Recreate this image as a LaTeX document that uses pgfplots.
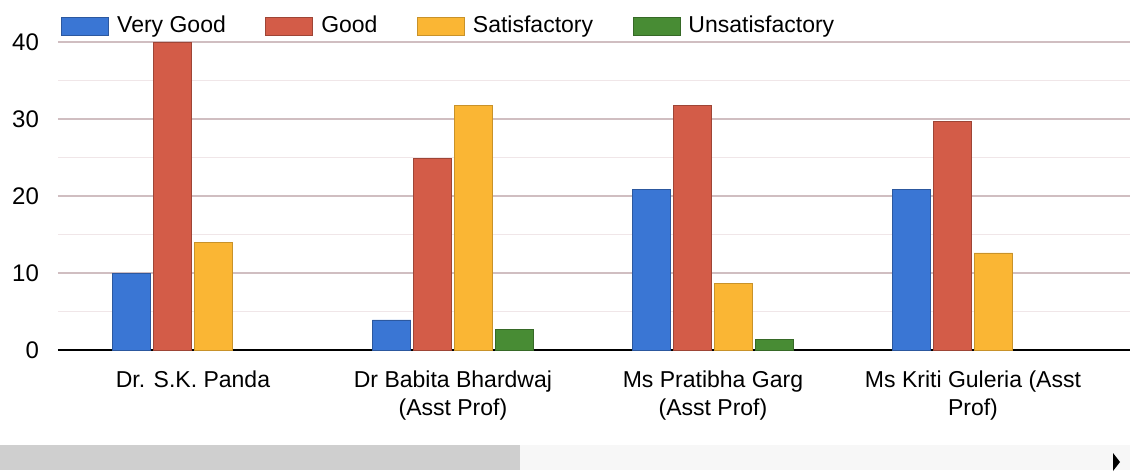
\documentclass[border=0pt]{standalone}
\usepackage{pgfplots}
\pgfplotsset{compat=1.18}
\usepackage{fontspec}
\setmainfont{Liberation Sans}
\definecolor{cVG}{RGB}{58,118,212}
\definecolor{cG}{RGB}{211,92,72}
\definecolor{cS}{RGB}{250,182,52}
\definecolor{cU}{RGB}{72,140,52}
\definecolor{gridmaj}{RGB}{208,190,193}
\definecolor{gridmin}{RGB}{240,230,232}
\begin{document}
\begin{tikzpicture}
\useasboundingbox (-29pt,-61pt) rectangle (536pt,175pt);
\begin{axis}[
  width=536pt, height=154pt, scale only axis,
  xmin=-0.519, xmax=3.604, ymin=0, ymax=40,
  ybar=1.2pt, bar width=0.148,
  axis x line*=bottom, axis y line*=left,
  x axis line style={black, line width=1.1pt},
  y axis line style={draw=none},
  major tick length=0pt, minor tick length=0pt,
  xtick={0,1,2,3},
  xticklabels={Dr. S.K. Panda, {Dr Babita Bhardwaj\\(Asst Prof)}, {Ms Pratibha Garg\\(Asst Prof)}, {Ms Kriti Guleria (Asst\\Prof)}},
  xticklabel style={align=center, font=\fontsize{11.5}{14}\selectfont, yshift=-7pt},
  ytick={0,10,20,30,40},
  minor ytick={5,15,25,35},
  yticklabel style={font=\fontsize{12}{14}\selectfont, xshift=-6pt},
  /pgf/number format/assume math mode=true,
  ymajorgrids, yminorgrids,
  major grid style={gridmaj, line width=0.6pt},
  minor grid style={gridmin, line width=0.5pt},
  legend columns=4,
  legend image code/.code={\draw[#1] (0pt,-4.5pt) rectangle (23.5pt,4.5pt);},
  legend style={at={(0,1)}, anchor=west, xshift=1.5pt, yshift=8pt, draw=none, fill=none,
    inner sep=0pt, font=\fontsize{11.5}{13}\selectfont,
    nodes={inner sep=0pt},
    /tikz/every odd column/.append style={column sep=4pt},
    /tikz/every even column/.append style={column sep=19.8pt}},
  legend cell align=left,
]
\addplot[fill=cVG, draw=cVG!75!black, line width=0.4pt] coordinates {(0,10) (1,3.9) (2,20.8) (3,20.8)};
\addplot[fill=cG, draw=cG!75!black, line width=0.4pt] coordinates {(0,40) (1,24.9) (2,31.8) (3,29.7)};
\addplot[fill=cS, draw=cS!80!black, line width=0.4pt] coordinates {(0,14) (1,31.8) (2,8.6) (3,12.6)};
\addplot[fill=cU, draw=cU!75!black, line width=0.4pt] coordinates {(1,2.7) (2,1.4)};
\legend{Very Good, Good, Satisfactory, Unsatisfactory}
\end{axis}
\fill[gray!6] (231pt,-47.5pt) rectangle (536pt,-60pt);
\fill[gray!38] (-29pt,-47.5pt) rectangle (231pt,-60pt);
\fill[black] (527.5pt,-51.5pt) -- (531pt,-56pt) -- (527.5pt,-60.5pt) -- cycle;
\end{tikzpicture}
\end{document}
